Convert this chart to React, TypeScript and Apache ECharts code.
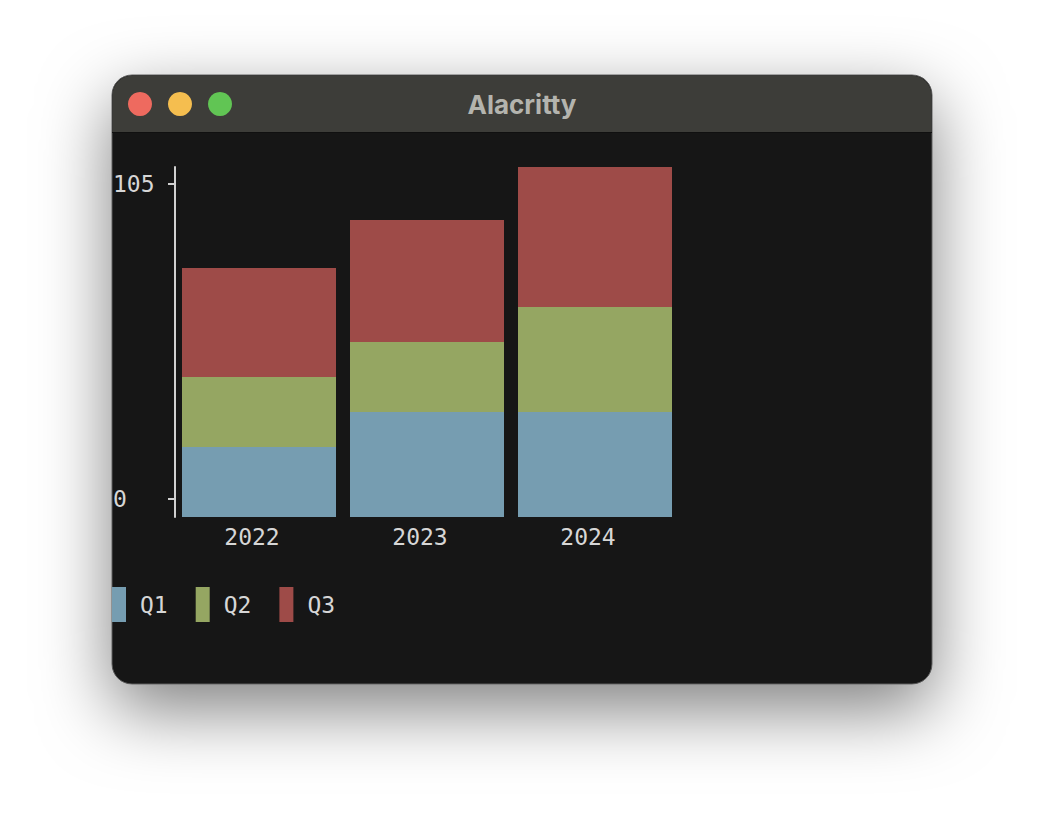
import React, { useEffect, useRef } from "react";
import * as echarts from "echarts";

const years = ["2022", "2023", "2024"];
const q1 = [21, 31.5, 31.5];
const q2 = [21, 21, 31.5];
const q3 = [32.7, 36.6, 42];
const tickValues = [0, 105];
const seriesNames = ["Q1", "Q2", "Q3"];
const colors = ["#769db1", "#95a662", "#9e4b48"];

const MONO = "'DejaVu Sans Mono', 'Liberation Mono', monospace";
const TXT = "#d6d6d6";

export default function App() {
  const ref = useRef<HTMLDivElement>(null);
  useEffect(() => {
    if (!ref.current) return;
    const chart = echarts.init(ref.current, null, { renderer: "svg" });
    const data = [q1, q2, q3];
    chart.setOption({
      animation: false,
      backgroundColor: "#ffffff",
      graphic: [
        {
          type: "rect",
          z: -10,
          shape: { x: 112, y: 75, width: 820, height: 609, r: 20 },
          style: {
            fill: "#181818",
            stroke: "#5a5a5a",
            lineWidth: 1,
            shadowBlur: 70,
            shadowOffsetY: 25,
            shadowColor: "rgba(0,0,0,0.5)",
          },
        },
        {
          type: "rect",
          z: -9,
          shape: { x: 112.5, y: 75.5, width: 819, height: 56.5, r: [20, 20, 0, 0] },
          style: { fill: "#3d3d39" },
        },
        {
          type: "line",
          z: -8,
          shape: { x1: 112, y1: 132.5, x2: 932, y2: 132.5 },
          style: { stroke: "#101010", lineWidth: 1 },
        },
        { type: "circle", z: -8, shape: { cx: 140, cy: 104, r: 12 }, style: { fill: "#ee6a5f" } },
        { type: "circle", z: -8, shape: { cx: 180, cy: 104, r: 12 }, style: { fill: "#f5be4f" } },
        { type: "circle", z: -8, shape: { cx: 220, cy: 104, r: 12 }, style: { fill: "#61c554" } },
        {
          type: "text",
          z: -8,
          x: 522,
          y: 104,
          style: {
            text: "Alacritty",
            fill: "#b4b4ae",
            font: "bold 26px Inter, 'Open Sans', sans-serif",
            align: "center",
            verticalAlign: "middle",
          },
        },
      ],
      grid: { left: 175, width: 504, top: 167, height: 350, containLabel: false },
      legend: {
        left: 112,
        top: 587,
        padding: 0,
        itemWidth: 14,
        itemHeight: 35,
        itemGap: 28,
        icon: "rect",
        data: seriesNames,
        textStyle: { color: TXT, fontFamily: MONO, fontSize: 23, padding: [0, 0, 0, 9] },
      },
      xAxis: {
        type: "category",
        data: years,
        axisLine: { show: false },
        axisTick: { show: false },
        axisLabel: {
          color: TXT,
          fontFamily: MONO,
          fontSize: 23,
          margin: 8,
          padding: [0, 14, 0, 0],
        },
      },
      yAxis: [
        { type: "value", min: 0, max: 105, show: false },
        {
          type: "value",
          min: -6,
          max: 110.667,
          position: "left",
          splitLine: { show: false },
          axisLine: { show: true, lineStyle: { color: "#d0d0d0", width: 2 } },
          axisTick: {
            show: true,
            length: 7,
            customValues: tickValues,
            lineStyle: { color: "#d0d0d0", width: 2 },
          },
          axisLabel: {
            color: TXT,
            fontFamily: MONO,
            fontSize: 23,
            align: "left",
            margin: 62,
            customValues: tickValues,
          },
        },
      ],
      series: seriesNames.map((name, i) => ({
        name,
        type: "bar",
        stack: "total",
        yAxisIndex: 0,
        barWidth: 154,
        data: data[i],
        itemStyle: { color: colors[i] },
      })),
    });
    return () => chart.dispose();
  }, []);
  return (
    <div style={{ position: "fixed", left: 0, top: 0, width: 1044, height: 832 }}>
      <div ref={ref} style={{ width: 1044, height: 832 }} />
    </div>
  );
}
